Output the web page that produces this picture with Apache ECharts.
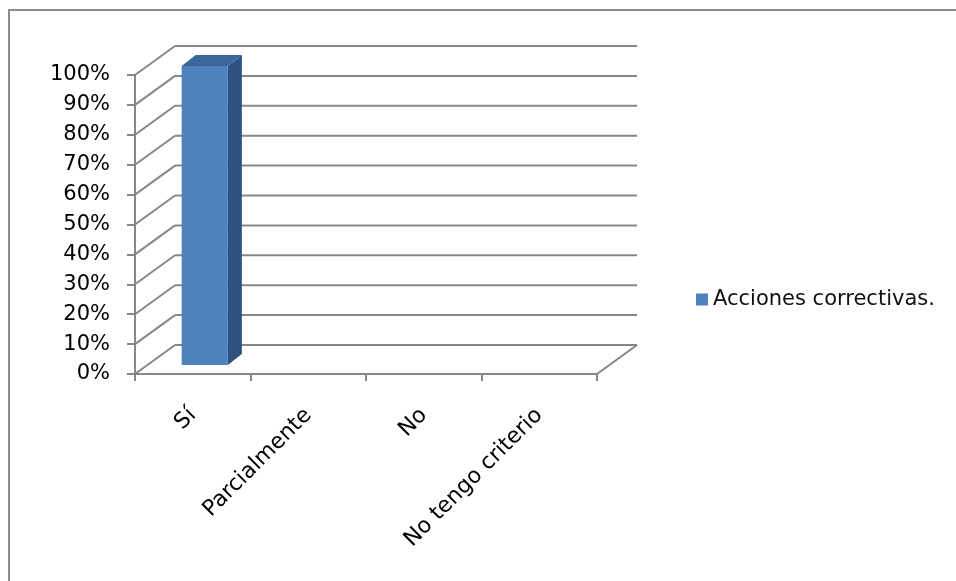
<!DOCTYPE html>
<html>
<head>
<meta charset="utf-8">
<script src="https://cdn.jsdelivr.net/npm/echarts@6/dist/echarts.min.js"></script>
<style>
  html, body { margin: 0; padding: 0; background: #fff; }
  #chart { width: 956px; height: 581px; }
</style>
</head>
<body>
<div id="chart"></div>
<script>
// Survey answers and share of respondents
const categories = ['Sí', 'Parcialmente', 'No', 'No tengo criterio'];
const values = [1.0, 0, 0, 0];
const seriesName = 'Acciones correctivas.';
const yTicks = [0, 0.1, 0.2, 0.3, 0.4, 0.5, 0.6, 0.7, 0.8, 0.9, 1.0];

// Pseudo-3D depth offsets (screen px)
const WALL = [40, -29];      // back wall relative to front plane
const BAR_FRONT = [12, -9];  // bar front face relative to front plane
const BAR_DEPTH = [14, -11]; // bar thickness along depth

const GRID_COLOR = '#878787';
const FONT = 'DejaVu Sans';

const chart = echarts.init(document.getElementById('chart'));

function renderWall(params, api) {
  const cs = params.coordSys;
  const y = api.coord([0, api.value(1)])[1];
  const x0 = cs.x, x1 = cs.x + cs.width;
  const style = { stroke: GRID_COLOR, lineWidth: 2, fill: null };
  const children = [
    { type: 'line', shape: { x1: x0, y1: y, x2: x0 + WALL[0], y2: y + WALL[1] }, style },
    { type: 'line', shape: { x1: x0 + WALL[0], y1: y + WALL[1], x2: x1 + WALL[0], y2: y + WALL[1] }, style }
  ];
  if (api.value(1) === 0) {
    children.push({ type: 'line', shape: { x1: x1, y1: y, x2: x1 + WALL[0], y2: y + WALL[1] }, style });
  }
  return { type: 'group', children };
}

function renderBar(params, api) {
  const v = api.value(1);
  if (!v) return null;
  const base = api.coord([api.value(0), 0]);
  const top = api.coord([api.value(0), v]);
  const w = api.size([1, 0])[0] * 0.4;
  const xl = base[0] - w / 2 + BAR_FRONT[0];
  const xr = xl + w;
  const yb = base[1] + BAR_FRONT[1];
  const yt = top[1] + BAR_FRONT[1];
  const dx = BAR_DEPTH[0], dy = BAR_DEPTH[1];
  return {
    type: 'group',
    children: [
      { type: 'polygon', shape: { points: [[xr, yt], [xr + dx, yt + dy], [xr + dx, yb + dy], [xr, yb]] },
        style: { fill: '#2E5180' } },
      { type: 'polygon', shape: { points: [[xl, yt], [xl + dx, yt + dy], [xr + dx, yt + dy], [xr, yt]] },
        style: { fill: '#3B679C' } },
      { type: 'rect', shape: { x: xl, y: yt, width: w, height: yb - yt },
        style: { fill: '#4F81BD' } }
    ]
  };
}

chart.setOption({
  animation: false,
  backgroundColor: '#ffffff',
  graphic: [{
    type: 'rect', shape: { x: 9, y: 10, width: 1200, height: 1200 },
    style: { fill: null, stroke: '#8C8C8C', lineWidth: 2 }, silent: true
  }],
  grid: { left: 135, top: 75, width: 462, height: 299, containLabel: false },
  legend: {
    data: [seriesName],
    left: 691, top: 284,
    icon: 'rect', itemWidth: 12, itemHeight: 12, itemGap: 10,
    textStyle: { fontFamily: FONT, fontSize: 21, color: '#111' }
  },
  xAxis: {
    type: 'category',
    data: categories,
    axisLine: { lineStyle: { color: GRID_COLOR, width: 2 } },
    axisTick: { show: true, length: 7, lineStyle: { color: GRID_COLOR, width: 2 } },
    axisLabel: { rotate: 45, margin: 38, fontFamily: FONT, fontSize: 22, color: '#000', interval: 0 },
    splitLine: { show: false }
  },
  yAxis: {
    type: 'value',
    min: 0, max: 1, interval: 0.1,
    axisLine: { show: true, lineStyle: { color: GRID_COLOR, width: 2 } },
    axisTick: { show: true, length: 8, lineStyle: { color: GRID_COLOR, width: 2 } },
    axisLabel: {
      margin: 25, fontFamily: FONT, fontSize: 21, color: '#000',
      formatter: v => Math.round(v * 100) + '%'
    },
    splitLine: { show: false }
  },
  series: [
    {
      type: 'custom',
      name: 'walls',
      renderItem: renderWall,
      data: yTicks.map(v => [0, v]),
      clip: false,
      silent: true,
      z: 1
    },
    {
      type: 'custom',
      name: seriesName,
      renderItem: renderBar,
      itemStyle: { color: '#4F81BD' },
      data: categories.map((c, i) => [i, values[i]]),
      clip: false,
      z: 3
    }
  ]
});
</script>
</body>
</html>
